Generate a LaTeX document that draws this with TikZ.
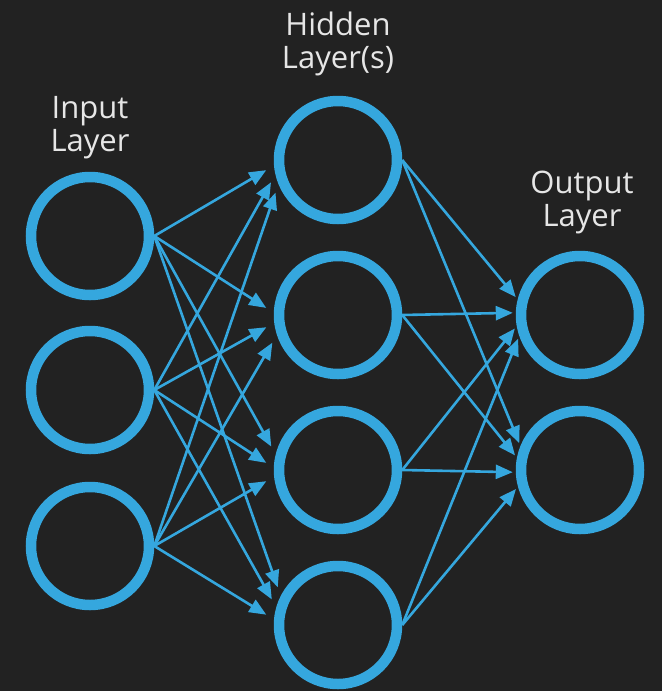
\documentclass[tikz,border=0pt]{standalone}
\usepackage{fontspec}
\setmainfont{Open Sans}
\usetikzlibrary{arrows.meta}

\definecolor{nnblue}{HTML}{35A7DE}
\definecolor{nnback}{HTML}{222222}
\definecolor{nntext}{HTML}{E6E6E6}

\begin{document}
\begin{tikzpicture}[x=0.5pt,y=-0.5pt,>={Triangle[length=8.5pt,width=7pt]},
  neuron/.style={circle,draw=nnblue,line width=5.25pt,minimum size=59pt,inner sep=0pt},
  layer label/.style={text=nntext,font=\fontsize{15.5}{16.5}\selectfont,align=center},
  conn/.style={->,color=nnblue,line width=1.3pt,shorten >=4.5pt}]

  % background
  \fill[nnback] (0,0) rectangle (662,691);
  \useasboundingbox (0,0) rectangle (662,691);

  \node[neuron] (i1) at (90,236) {};
  \node[neuron] (i2) at (90,390) {};
  \node[neuron] (i3) at (90,546) {};

  \node[neuron] (h1) at (338,160) {};
  \node[neuron] (h2) at (338,315) {};
  \node[neuron] (h3) at (338,470) {};
  \node[neuron] (h4) at (338,625) {};

  \node[neuron] (o1) at (580,315) {};
  \node[neuron] (o2) at (580,470) {};

  \node[layer label] (lin) at (90,128) {Input\\Layer};
  \node[layer label] (lhid) at (338,44) {Hidden\\Layer(s)};
  \node[layer label] (lout) at (582,202) {Output\\Layer};

  % input -> hidden
  \path[every edge/.append style={conn}]
    (i1.east) edge (h1.185)
              edge (h2.178)
              edge (h3.166)
              edge (h4.153)
    (i2.east) edge (h1.193)
              edge (h2.187)
              edge (h3.178)
              edge (h4.164)
    (i3.east) edge (h1.202)
              edge (h2.198)
              edge (h3.186)
              edge (h4.175);

  % hidden -> output
  \path[every edge/.append style={conn,shorten >=1.5pt}]
    (h1.east) edge (o1.166)
              edge (o2.158)
    (h2.east) edge (o1.178)
              edge (o2.169)
    (h3.east) edge (o1.190)
              edge (o2.182)
    (h4.east) edge (o1.199)
              edge (o2.195);
\end{tikzpicture}
\end{document}
